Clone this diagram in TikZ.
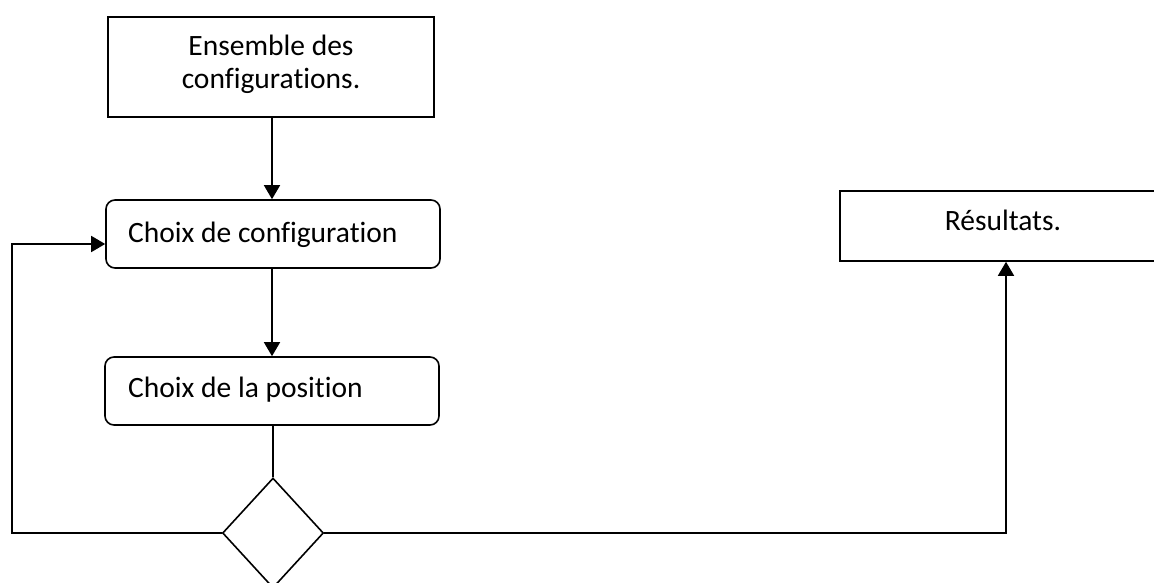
\documentclass[tikz,border=0pt]{standalone}
\usepackage{fontspec}
\setmainfont{Carlito}[RawFeature=-liga]
\usetikzlibrary{arrows.meta,shapes.geometric}

\tikzset{
  box/.style={draw, line width=1.6pt, minimum width=#1, inner sep=0pt},
  roundbox/.style={draw, line width=1.6pt, rounded corners=9pt, inner sep=0pt},
  label/.style={inner sep=0pt, font=\fontsize{29.5}{34}\selectfont},
  link/.style={line width=1.6pt},
  arrowlink/.style={line width=1.6pt, -{Triangle[length=14pt,width=16pt]}},
}

\begin{document}
\begin{tikzpicture}[x=1pt, y=-1pt]
  % page frame
  \useasboundingbox (0,0) rectangle (1154,583);
  \fill[white] (0,0) rectangle (1154,583);

  % boxes
  \node[box=326pt, minimum height=100pt] (ens) at (271,67) {};
  \node[roundbox, minimum width=334pt, minimum height=68pt] (conf) at (273,234) {};
  \node[roundbox, minimum width=334pt, minimum height=68pt] (pos) at (272,391) {};
  \node[draw, line width=1.6pt, diamond, inner sep=0pt, minimum width=101pt, minimum height=110pt, aspect=0.92] (dec) at (273,533) {};
  \node[box=326pt, minimum height=70pt] (res) at (1003,226) {};

  % texts
  \node[label, anchor=base] (ens1) at (271,56) {Ensemble des};
  \node[label, anchor=base] (ens2) at (271,89) {configurations.};
  \node[label, anchor=base west] (conft) at (128,242) {Choix de configuration};
  \node[label, anchor=base west] (post) at (128,397) {Choix de la position};
  \node[label, anchor=base] (rest) at (1003,230) {Résultats.};

  % connectors
  \draw[arrowlink] (ens.south -| 272,0) -- (conf.north -| 272,0);
  \draw[arrowlink] (conf.south -| 272,0) -- (pos.north -| 272,0);
  \draw[link] (pos.south -| dec.north) -- (dec.north);
  \coordinate (loopbot) at (12,533);
  \coordinate (looptop) at (12,244);
  \draw[arrowlink] (dec.west) -- (loopbot) -- (looptop) -- (looptop -| conf.west);
  \coordinate (rcorner) at (1006,533);
  \draw[arrowlink] (dec.east) -- (rcorner) -- (rcorner |- res.south);
\end{tikzpicture}
\end{document}
